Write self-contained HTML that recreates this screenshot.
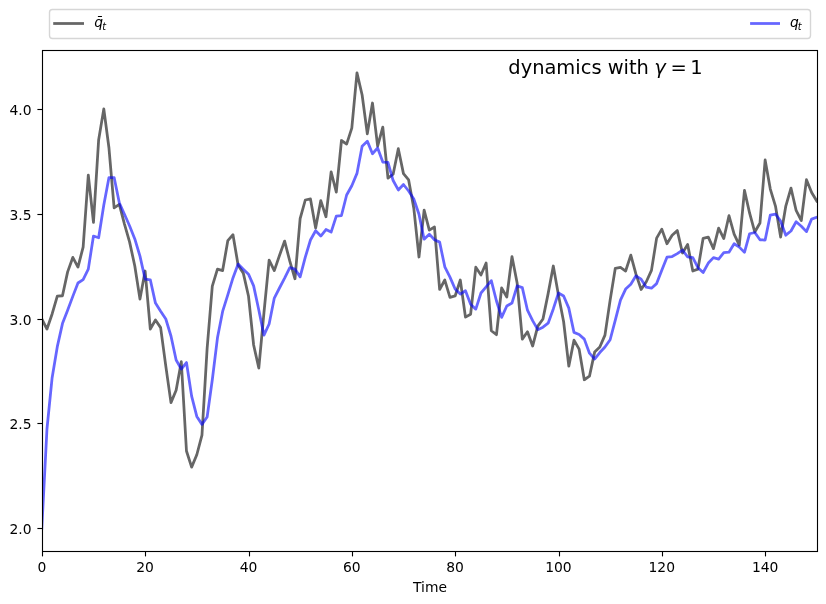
<!DOCTYPE html>
<html lang="en">
<head>
<meta charset="utf-8">
<title>dynamics with gamma = 1</title>
<style>
html,body{margin:0;padding:0;background:#ffffff;}
body{width:826px;height:604px;overflow:hidden;}
svg{display:block;will-change:transform;}
text{font-family:"DejaVu Sans", "Liberation Sans", sans-serif;fill:#000;}
.tk{font-size:13.89px;}
.it{font-style:italic;}
</style>
</head>
<body>
<svg width="826" height="604" viewBox="0 0 826 604">
<rect x="0" y="0" width="826" height="604" fill="#ffffff"/>
<defs><clipPath id="ax"><rect x="42.5" y="50.5" width="775.0" height="501.0"/></clipPath></defs>
<g clip-path="url(#ax)" fill="none" stroke-width="2.78" stroke-linejoin="round" stroke-linecap="square">
<polyline points="41.80,319.00 46.97,329.06 52.13,313.97 57.30,296.16 62.47,295.75 67.63,271.86 72.80,257.41 77.97,267.04 83.13,247.14 88.30,175.07 93.47,222.42 98.63,140.09 103.80,108.87 108.97,148.05 114.13,207.97 119.30,204.40 124.47,224.10 129.63,242.11 134.80,266.00 139.97,299.10 145.13,271.02 150.30,329.06 155.47,320.05 160.63,327.59 165.80,366.14 170.97,402.59 176.13,390.23 181.30,361.74 186.47,450.98 191.63,467.12 196.80,454.76 201.97,435.06 207.13,348.33 212.30,286.11 217.47,269.14 222.63,270.61 227.80,240.65 232.97,234.78 238.13,265.16 243.30,273.12 248.47,295.96 253.63,344.98 258.80,368.02 263.97,312.72 269.13,260.13 274.30,270.61 279.47,255.52 284.63,241.07 289.80,261.18 294.97,278.78 300.13,218.65 305.30,200.00 310.47,198.96 315.63,228.08 320.80,200.63 325.97,216.76 331.13,171.93 336.30,192.04 341.47,140.51 346.63,144.07 351.80,128.15 356.97,72.84 362.13,95.04 367.30,133.80 372.47,103.01 377.63,146.16 382.80,127.10 387.97,178.22 393.13,174.24 398.30,148.68 403.47,173.61 408.63,179.89 413.80,208.17 418.97,256.99 424.13,210.06 429.30,230.17 434.47,227.03 439.63,289.46 444.80,280.03 449.97,297.42 455.13,295.96 460.30,280.03 465.47,317.11 470.63,314.18 475.80,267.25 480.97,275.00 486.13,263.06 491.30,330.73 496.47,334.71 501.63,287.99 506.80,297.00 511.97,256.57 517.13,282.97 522.30,339.11 527.47,331.78 532.63,346.03 537.80,326.12 542.97,319.00 548.13,293.65 553.30,266.00 558.47,295.12 563.63,321.72 568.80,366.14 573.97,340.16 579.13,349.17 584.30,379.75 589.47,376.19 594.63,352.10 599.80,347.07 604.97,335.13 610.13,300.15 615.30,268.30 620.47,267.46 625.63,271.02 630.80,255.10 635.97,274.17 641.13,289.46 646.30,281.71 651.47,270.40 656.63,238.13 661.80,229.12 666.97,243.79 672.13,235.20 677.30,230.59 682.47,253.01 687.63,244.42 692.80,271.02 697.97,269.14 703.13,238.34 708.30,237.09 713.47,248.61 718.63,228.08 723.80,238.55 728.97,215.72 734.13,234.15 739.30,245.05 744.47,190.37 749.63,213.20 754.80,232.06 759.97,223.05 765.13,159.99 770.30,189.11 775.47,206.08 780.63,237.09 785.80,206.08 790.97,188.06 796.13,210.48 801.30,220.53 806.47,179.68 811.63,192.46 816.80,201.05" stroke="#000000" stroke-opacity="0.6"/>
<polyline points="41.80,528.50 46.97,428.99 52.13,377.66 57.30,346.65 62.47,323.61 67.63,310.20 72.80,296.37 77.97,282.97 83.13,279.61 88.30,269.14 93.47,236.04 98.63,237.71 103.80,205.03 108.97,177.59 114.13,177.59 119.30,202.73 124.47,214.25 129.63,225.98 134.80,238.97 139.97,256.15 145.13,279.20 150.30,279.82 155.47,303.08 160.63,311.25 165.80,319.00 170.97,335.97 176.13,360.06 181.30,369.07 186.47,362.58 191.63,396.10 196.80,416.42 201.97,424.38 207.13,417.05 212.30,379.75 217.47,337.85 222.63,311.46 227.80,294.91 232.97,277.94 238.13,264.11 243.30,269.14 248.47,274.17 253.63,285.90 258.80,309.99 263.97,335.13 269.13,324.03 274.30,298.05 279.47,287.99 284.63,278.15 289.80,267.67 294.97,269.14 300.13,276.89 305.30,257.20 310.47,240.02 315.63,230.80 320.80,236.04 325.97,229.54 331.13,232.06 336.30,216.14 341.47,215.51 346.63,194.98 351.80,185.76 356.97,173.40 362.13,146.16 367.30,141.13 372.47,153.70 377.63,148.05 382.80,162.08 387.97,162.29 393.13,180.52 398.30,189.95 403.47,184.50 408.63,191.00 413.80,198.96 418.97,214.25 424.13,239.18 429.30,234.15 434.47,239.81 439.63,242.11 444.80,266.83 449.97,277.10 455.13,289.04 460.30,294.07 465.47,290.72 470.63,304.13 475.80,309.15 480.97,293.02 486.13,286.95 491.30,280.66 496.47,300.98 501.63,317.32 506.80,306.01 511.97,303.08 517.13,285.90 522.30,287.58 527.47,310.20 532.63,320.68 537.80,329.68 542.97,327.17 548.13,323.19 553.30,308.94 558.47,293.02 563.63,295.96 568.80,308.11 573.97,332.41 579.13,334.50 584.30,339.11 589.47,353.15 594.63,359.01 599.80,352.52 604.97,347.07 610.13,339.74 615.30,320.05 620.47,300.15 625.63,289.04 630.80,284.22 635.97,275.84 641.13,279.20 646.30,287.16 651.47,288.20 656.63,283.59 661.80,270.19 666.97,257.20 672.13,256.57 677.30,253.64 682.47,250.07 687.63,256.78 692.80,257.62 697.97,267.67 703.13,272.49 708.30,263.06 713.47,257.62 718.63,259.08 723.80,252.59 728.97,252.17 734.13,243.79 739.30,247.14 744.47,252.38 749.63,233.73 754.80,232.48 759.97,239.81 765.13,240.02 770.30,215.09 775.47,214.04 780.63,221.16 785.80,235.20 790.97,231.01 796.13,221.79 801.30,226.19 806.47,231.64 811.63,219.07 816.80,217.18" stroke="#0000ff" stroke-opacity="0.6"/>
</g>
<rect x="42.5" y="50.5" width="775.0" height="501.0" fill="none" stroke="#000" stroke-width="1.11"/>
<g stroke="#000" stroke-width="1.11">
<line x1="42.50" y1="551.5" x2="42.50" y2="556.40"/>
<line x1="145.50" y1="551.5" x2="145.50" y2="556.40"/>
<line x1="249.50" y1="551.5" x2="249.50" y2="556.40"/>
<line x1="352.50" y1="551.5" x2="352.50" y2="556.40"/>
<line x1="455.50" y1="551.5" x2="455.50" y2="556.40"/>
<line x1="559.50" y1="551.5" x2="559.50" y2="556.40"/>
<line x1="662.50" y1="551.5" x2="662.50" y2="556.40"/>
<line x1="765.50" y1="551.5" x2="765.50" y2="556.40"/>
<line x1="42.5" y1="528.50" x2="37.40" y2="528.50"/>
<line x1="42.5" y1="423.50" x2="37.40" y2="423.50"/>
<line x1="42.5" y1="319.50" x2="37.40" y2="319.50"/>
<line x1="42.5" y1="214.50" x2="37.40" y2="214.50"/>
<line x1="42.5" y1="109.50" x2="37.40" y2="109.50"/>
</g>
<text class="tk" x="41.80" y="572" text-anchor="middle">0</text>
<text class="tk" x="145.13" y="572" text-anchor="middle">20</text>
<text class="tk" x="248.47" y="572" text-anchor="middle">40</text>
<text class="tk" x="351.80" y="572" text-anchor="middle">60</text>
<text class="tk" x="455.13" y="572" text-anchor="middle">80</text>
<text class="tk" x="558.47" y="572" text-anchor="middle">100</text>
<text class="tk" x="661.80" y="572" text-anchor="middle">120</text>
<text class="tk" x="765.13" y="572" text-anchor="middle">140</text>
<text class="tk" x="31.6" y="534" text-anchor="end">2.0</text>
<text class="tk" x="31.6" y="429" text-anchor="end">2.5</text>
<text class="tk" x="31.6" y="325" text-anchor="end">3.0</text>
<text class="tk" x="31.6" y="220" text-anchor="end">3.5</text>
<text class="tk" x="31.6" y="115" text-anchor="end">4.0</text>
<text class="tk" x="430.00" y="592" text-anchor="middle">Time</text>
<text x="508.3" y="73.8" font-size="19.44px">dynamics with <tspan class="it" dx="-0.8">γ</tspan><tspan dx="-1.6"> =</tspan><tspan dx="-2.7"> 1</tspan></text>
<rect x="49.5" y="9.5" width="761" height="29" rx="3" ry="3" fill="#ffffff" fill-opacity="0.8" stroke="#cccccc" stroke-opacity="0.8" stroke-width="1.39"/>
<line x1="54.6" y1="23.5" x2="82.6" y2="23.5" stroke="#000" stroke-opacity="0.6" stroke-width="2.78" stroke-linecap="square"/>
<line x1="751.5" y1="23.5" x2="778.6" y2="23.5" stroke="#0000ff" stroke-opacity="0.6" stroke-width="2.78" stroke-linecap="square"/>
<text class="tk it" x="94.2" y="27.2">q̄<tspan font-size="9.72px" dy="2.6" dx="-0.8">t</tspan></text>
<text class="tk it" x="790.0" y="27.2">q<tspan font-size="9.72px" dy="2.6" dx="-1.1">t</tspan></text>
</svg>
</body>
</html>
